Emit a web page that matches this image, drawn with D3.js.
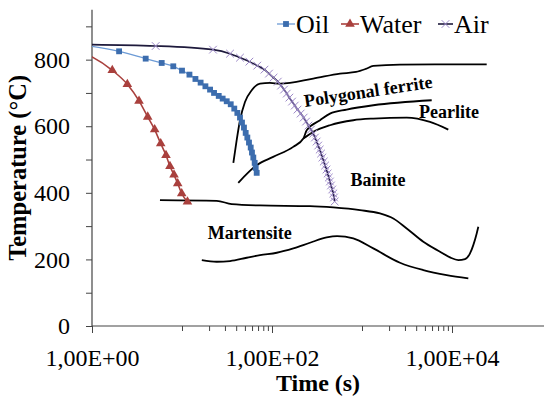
<!DOCTYPE html>
<html><head><meta charset="utf-8">
<script src="https://cdn.jsdelivr.net/npm/d3@7"></script>
<style>
body{margin:0;background:#fff;}
svg{display:block;}
text{font-family:"Liberation Serif","Times New Roman",serif;}
</style>
</head><body>
<svg id="c" width="544" height="398"></svg>
<script>
// ---- data (time in s, temperature in °C) ----
const oilTime = [0.5, 2.0, 3.95, 5.95, 8.0, 10, 12.1, 14.1, 16.1, 18.2, 20.5, 22.7, 25.6, 28.3, 31.4, 34.8, 38.1, 41.2, 44.1, 46.4, 48.8, 51.0, 53.2, 55.5, 58.0, 59.9, 62.0, 64.2, 65.9, 67.6];
const oilTemp = [851, 825, 803, 790, 780, 767, 755, 742, 731, 720, 710, 700, 691, 683, 675, 666, 653, 640, 626, 611, 596, 580, 566, 551, 536, 521, 506, 490, 475, 460];

const waterTime = [0.5, 1.68, 2.47, 3.33, 4.16, 4.97, 5.8, 6.64, 7.35, 8.15, 8.96, 9.93, 11.5];
const waterTemp = [843, 768, 726, 676, 628, 590, 548, 513, 480, 454, 428, 398, 373];

const airTime = [0.5, 5.1, 22.1, 34.2, 44.1, 56.1, 68.6, 82.5, 92.6, 104, 116, 126, 136, 146, 156, 167, 179, 192, 208, 225, 239, 254, 271, 288, 300, 313, 326, 339, 351, 363, 376, 389, 403, 415, 428, 440, 452, 467, 480, 489, 497];
const airTemp = [846, 841, 830, 818, 806, 794, 782, 770, 758, 746, 734, 722, 710, 698, 686, 674, 662, 650, 638, 626, 614, 602, 590, 578, 566, 554, 542, 530, 518, 506, 494, 482, 470, 458, 446, 434, 422, 410, 398, 386, 374];

// CCT transformation lines
const ferriteTime = [37.2, 40.5, 44.1, 50.1, 59.5, 73.6, 95, 123, 287, 570, 858, 1100, 1335, 2643, 24300];
const ferriteTemp = [490, 558, 618, 673, 708, 728, 730, 728, 743, 758, 763, 772, 781, 785, 786];

const pearliteTime = [42.2, 67.6, 103, 172, 223, 243, 342, 441, 676, 1335, 5950];
const pearliteTemp = [430, 483, 508, 538, 563, 588, 618, 638, 650, 663, 678];

const bainiteTime = [223, 288, 441, 800, 1335, 3139, 5695, 9097];
const bainiteTemp = [563, 583, 603, 618, 623, 626, 613, 590];

const msTime = [5.69, 24.3, 35.7, 73.6, 264, 480, 950, 1585, 2227, 3139, 4799, 7356, 9502, 11749, 13950, 15849, 17246, 18813, 19601];
const msTemp = [378, 376, 366, 362, 360, 356, 348, 338, 323, 293, 253, 223, 206, 198, 201, 218, 243, 278, 298];

const mfTime = [16.6, 24.3, 34.2, 52.4, 73.6, 113, 172.5, 264, 405, 528, 800, 1335, 2643, 4799, 8730, 15180];
const mfTemp = [198, 193, 195, 205, 213, 220, 233, 250, 266, 270, 263, 233, 190, 168, 153, 143];

// region labels (anchored at time, temperature)
const labelText = ["Polygonal ferrite", "Pearlite", "Bainite", "Martensite"];
const labelTime = [233, 4300, 745, 19.3];
const labelTemp = [658, 624, 420, 260];
const labelAngle = [-8.6, 0, 0, 0];

const legendNames = ["Oil", "Water", "Air"];
const yMajor = [0, 200, 400, 600, 800];
const yMinor = [100, 300, 500, 700, 900];
const xMajor = [1, 100, 10000];
const xMajorLabels = ["1,00E+00", "1,00E+02", "1,00E+04"];
const xMinor = [10, 20, 30, 40, 50, 60, 70, 80, 90, 100, 1000, 2000, 3000, 4000, 5000, 6000, 7000, 8000, 9000, 10000];

// ---- chart ----
const svg = d3.select("#c");
const x = d3.scaleLog().domain([1, 1e5]).range([92, 542]);
const y = d3.scaleLinear().domain([0, 950]).range([326, 9.7]);
const AX = "#444";

svg.append("defs").append("clipPath").attr("id", "plot")
  .append("rect").attr("x", x(1)).attr("y", 0).attr("width", 544 - x(1)).attr("height", y(0));

// y axis
const gY = svg.append("g").attr("transform", `translate(${x(1)},0)`)
  .call(d3.axisLeft(y).tickValues(yMajor).tickSize(6).tickPadding(16).tickFormat(d3.format("d")));
gY.select(".domain").remove();
gY.selectAll("line").attr("stroke", AX);
gY.selectAll("text").attr("font-size", 24).attr("fill", "#000");
const gYm = svg.append("g").attr("transform", `translate(${x(1)},0)`)
  .call(d3.axisLeft(y).tickValues(yMinor).tickSize(6).tickFormat(""));
gYm.select(".domain").remove();
gYm.selectAll("line").attr("stroke", AX);

// x axis
const gX = svg.append("g").attr("transform", `translate(0,${y(0)})`)
  .call(d3.axisBottom(x).tickValues(xMajor).tickSize(7).tickPadding(16)
    .tickFormat((d, i) => xMajorLabels[i]));
gX.select(".domain").remove();
gX.selectAll("line").attr("stroke", AX);
gX.selectAll("text").attr("font-size", 24).attr("fill", "#000");
const gXm = svg.append("g").attr("transform", `translate(0,${y(0)})`)
  .call(d3.axisBottom(x).tickValues(xMinor).tickSize(5).tickFormat(""));
gXm.select(".domain").remove();
gXm.selectAll("line").attr("stroke", AX);

// axis lines
svg.append("line").attr("x1", x(1)).attr("x2", x(1)).attr("y1", y(950)).attr("y2", y(0))
  .attr("stroke", AX).attr("stroke-width", 1.2);
svg.append("line").attr("x1", x(1)).attr("x2", 544).attr("y1", y(0)).attr("y2", y(0))
  .attr("stroke", AX).attr("stroke-width", 1.2);

// axis titles
svg.append("text").attr("x", 318).attr("y", 391).attr("text-anchor", "middle")
  .attr("font-size", 24).attr("font-weight", "bold").text("Time (s)");
svg.append("text").attr("transform", `translate(26,${(y(0) + y(950)) / 2}) rotate(-90)`)
  .attr("text-anchor", "middle").attr("font-size", 24.5).attr("font-weight", "bold")
  .text("Temperature (°C)");

const plot = svg.append("g").attr("clip-path", "url(#plot)");
const zip = (a, b) => a.map((t, i) => [t, b[i]]);
const line = d3.line().x(d => x(d[0])).y(d => y(d[1])).curve(d3.curveMonotoneX);

// CCT lines
[[ferriteTime, ferriteTemp], [pearliteTime, pearliteTemp], [bainiteTime, bainiteTemp],
 [msTime, msTemp], [mfTime, mfTemp]].forEach(([t, v]) => {
  plot.append("path").attr("d", line(zip(t, v))).attr("fill", "none")
    .attr("stroke", "#000").attr("stroke-width", 1.8);
});

// series
const oil = zip(oilTime, oilTemp), water = zip(waterTime, waterTemp), air = zip(airTime, airTemp);
plot.append("path").attr("d", line(oil)).attr("fill", "none").attr("stroke", "#6D9BD6").attr("stroke-width", 1.3);
plot.append("path").attr("d", line(water)).attr("fill", "none").attr("stroke", "#A9403D").attr("stroke-width", 1.6);
plot.append("path").attr("d", line(air)).attr("fill", "none").attr("stroke", "#1E1A3C").attr("stroke-width", 1.6);

const sq = d3.symbol().type(d3.symbolSquare).size(34);
const tri = d3.symbol().type(d3.symbolTriangle).size(40);
const cross = d3.symbol().type(d3.symbolX).size(40);

plot.selectAll(".oilm").data(oil).join("path").attr("d", sq)
  .attr("transform", d => `translate(${x(d[0])},${y(d[1])})`).attr("fill", "#3C6DAE");
plot.selectAll(".waterm").data(water).join("path").attr("d", tri)
  .attr("transform", d => `translate(${x(d[0])},${y(d[1])})`).attr("fill", "#A9403D");
plot.selectAll(".airm").data(air).join("path").attr("d", cross)
  .attr("transform", d => `translate(${x(d[0])},${y(d[1])})`).attr("fill", "none")
  .attr("stroke", "#9C88C8").attr("stroke-width", 1);

// region labels
labelText.forEach((s, i) => {
  svg.append("text").attr("transform", `translate(${x(labelTime[i])},${y(labelTemp[i])}) rotate(${labelAngle[i]})`)
    .attr("font-size", 18).attr("font-weight", "bold").text(s);
});

// legend
const lg = svg.append("g");
const legX = [277, 341, 438];
const legW = [18, 18, 15];
const legColor = ["#6D9BD6", "#A9403D", "#1E1A3C"];
const legSym = [sq, tri, cross];
legendNames.forEach((n, i) => {
  const g = lg.append("g").attr("transform", `translate(${legX[i]},24)`);
  g.append("line").attr("x1", 0).attr("x2", legW[i]).attr("stroke", legColor[i]).attr("stroke-width", i === 0 ? 1.3 : 1.6);
  const m = g.append("path").attr("d", legSym[i]).attr("transform", `translate(${legW[i] / 2},0)`);
  if (i === 0) m.attr("fill", "#3C6DAE");
  else if (i === 1) m.attr("fill", "#A9403D");
  else m.attr("fill", "none").attr("stroke", "#9C88C8").attr("stroke-width", 1);
  g.append("text").attr("x", legW[i] + 1).attr("y", 9).attr("font-size", 26).text(n);
});
</script>
</body></html>
